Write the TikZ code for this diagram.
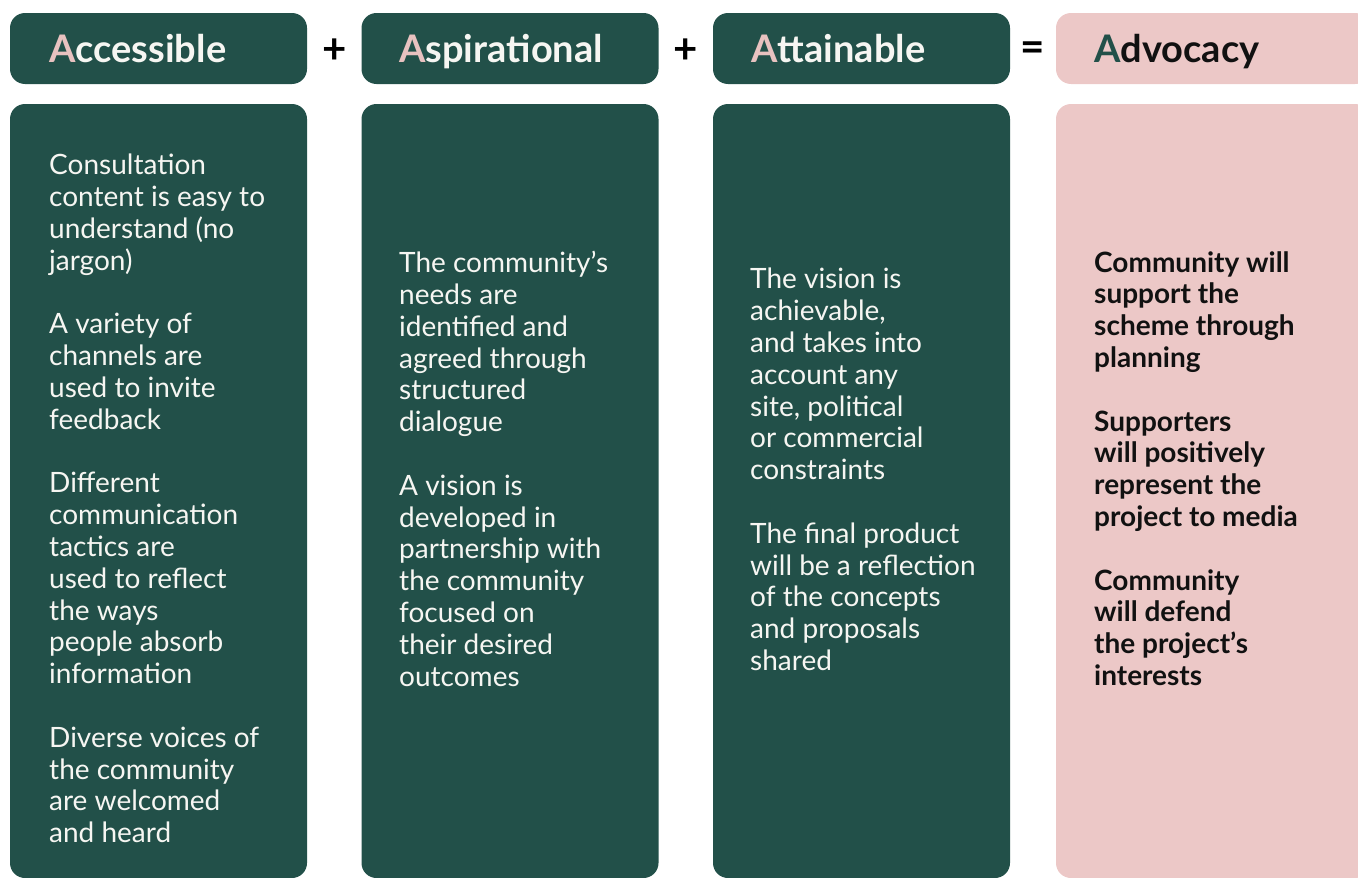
\documentclass[tikz,border=0pt]{standalone}
\usepackage{fontspec}
\setmainfont{Lato}
\definecolor{pine}{RGB}{34,80,73}
\definecolor{blush}{RGB}{236,200,199}
\definecolor{blushA}{RGB}{232,194,192}
\definecolor{chalk}{RGB}{246,246,242}
\definecolor{ink}{RGB}{17,17,17}
\newcommand\paragap{\\[31.8pt]}
\tikzset{
  panel/.style={rounded corners=15pt, inner sep=0pt, minimum width=297pt},
  headbox/.style={panel, minimum height=71pt},
  bodybox/.style={panel, minimum height=774pt},
  headtext/.style={anchor=base west, inner sep=0pt, font=\fontsize{38}{40}\selectfont\bfseries},
  bodytext/.style={anchor=north west, inner sep=0pt, align=left, font=\fontsize{28}{31.8}\selectfont},
  sign/.style={inner sep=0pt, yshift=-3pt, font=\fontsize{42}{42}\selectfont\bfseries}
}
\begin{document}
\begin{tikzpicture}[x=1pt,y=-1pt]
\useasboundingbox (0,0) rectangle (1358,878);
\clip (0,0) rectangle (1358,878);

% headers
\node[headbox, fill=pine] (hacc) at (158.5,48.5) {};
\node[headbox, fill=pine] (hasp) at (510,48.5) {};
\node[headbox, fill=pine] (hatt) at (861.5,48.5) {};
\node[headbox, fill=blush, minimum width=314pt] (hadv) at (1213,48.5) {};

\node[headtext, text=chalk] (tacc) at (49,62) {\textcolor{blushA}{A}ccessible};
\node[headtext, text=chalk] (tasp) at (399,62) {\textcolor{blushA}{A}spirational};
\node[headtext, text=chalk] (tatt) at (751,62) {\textcolor{blushA}{A}ttainable};
\node[headtext, text=ink] (tadv) at (1094,62) {\textcolor{pine}{A}dvocacy};

\path (hacc) -- node[sign] (plusa) {+} (hasp);
\path (hasp) -- node[sign] (plusb) {+} (hatt);
\path (hatt.east) -- node[sign] (equal) {=} (hadv.west);

% columns
\node[bodybox, fill=pine] (bacc) at (158.5,491) {};
\node[bodybox, fill=pine] (basp) at (510,491) {};
\node[bodybox, fill=pine] (batt) at (861.5,491) {};
\node[bodybox, fill=blush, minimum width=314pt] (badv) at (1213,491) {};

\node[bodytext, text=chalk] (lacc) at (49,154) {Consultation\\content is easy to\\understand (no\\jargon)\paragap
A variety of\\channels are\\used to invite\\feedback\paragap
Different\\communication\\tactics are\\used to reflect\\the ways\\people absorb\\information\paragap
Diverse voices of\\the community\\are welcomed\\and heard};

\node[bodytext, text=chalk] (lasp) at (399,251) {The community’s\\needs are\\identified and\\agreed through\\structured\\dialogue\paragap
A vision is\\developed in\\partnership with\\the community\\focused on\\their desired\\outcomes};

\node[bodytext, text=chalk] (latt) at (750,268) {The vision is\\achievable,\\and takes into\\account any\\site, political\\or commercial\\constraints\paragap
The final product\\will be a reflection\\of the concepts\\and proposals\\shared};

\node[bodytext, text=ink, font=\fontsize{28}{31.8}\selectfont\bfseries] (ladv) at (1094,251) {Community will\\support the\\scheme through\\planning\paragap
Supporters\\will positively\\represent the\\project to media\paragap
Community\\will defend\\the project’s\\interests};
\end{tikzpicture}
\end{document}
